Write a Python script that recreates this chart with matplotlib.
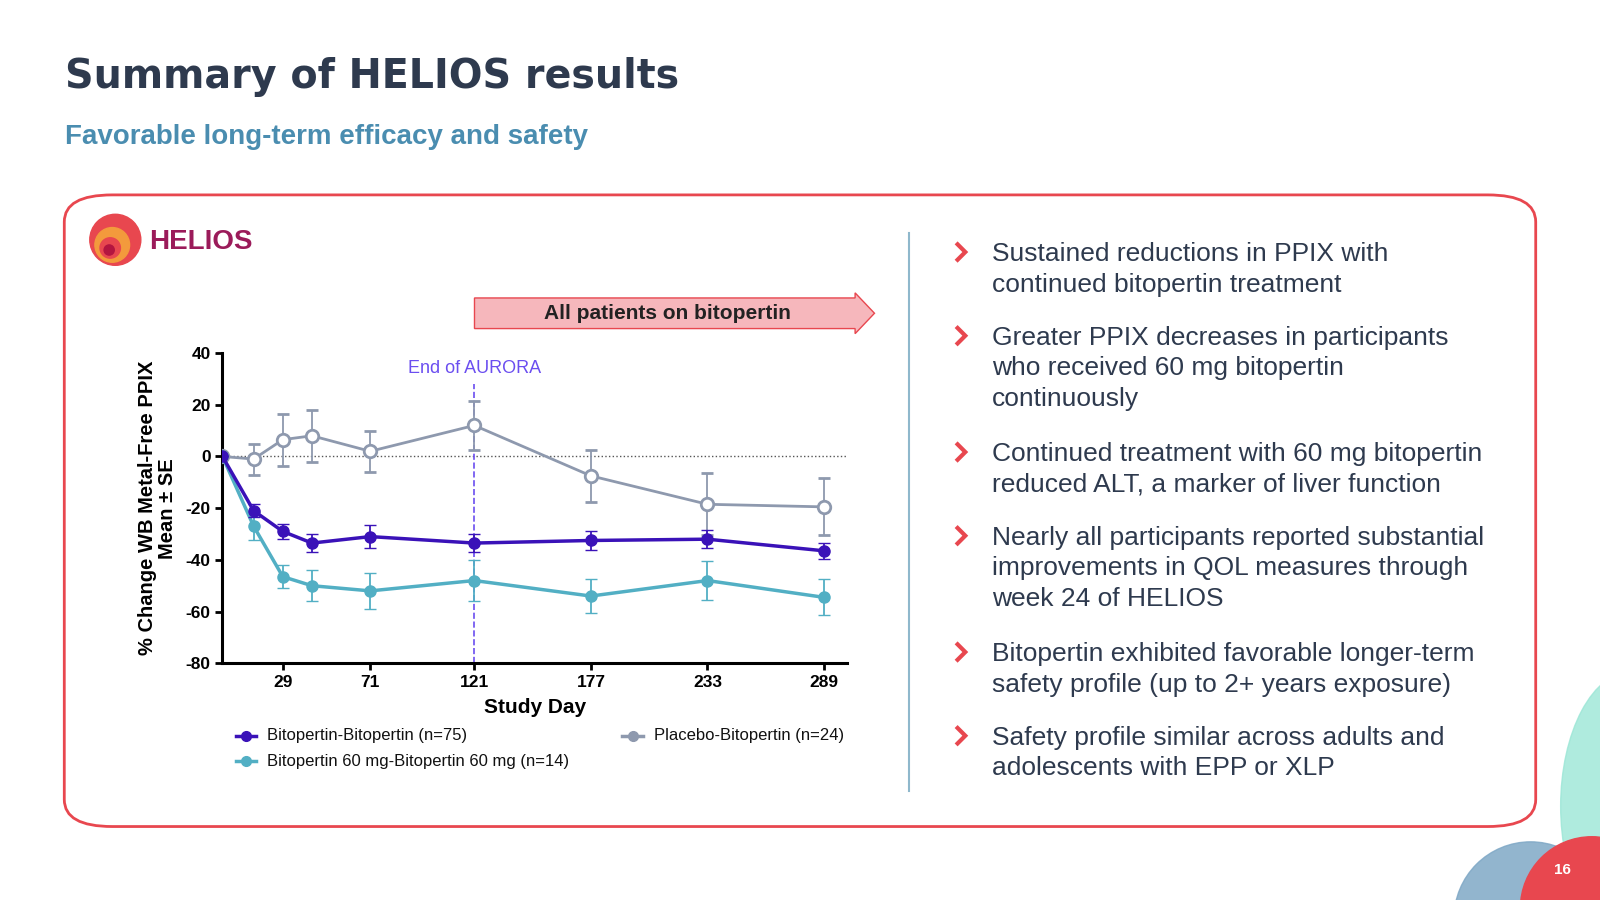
import matplotlib
matplotlib.use("Agg")
import matplotlib.pyplot as plt
from matplotlib.patches import FancyBboxPatch, Polygon, Ellipse
from matplotlib.lines import Line2D

days = [0, 15, 29, 43, 71, 121, 177, 233, 289]
bb_mean = [0, -21, -29, -33.5, -31, -33.5, -32.5, -32, -36.5]
bb_se = [0, 2.5, 3, 3.5, 4.5, 3.5, 3.5, 3.5, 3]
b60_mean = [0, -27, -46.5, -50, -52, -48, -54, -48, -54.5]
b60_se = [0, 5.5, 4.5, 6, 7, 8, 6.5, 7.5, 7]
pb_mean = [0, -1, 6.5, 8, 2, 12, -7.5, -18.5, -19.5]
pb_se = [0, 6, 10, 10, 8, 9.5, 10, 12, 11]
xticks = [29, 71, 121, 177, 233, 289]
yticks = [40, 20, 0, -20, -40, -60, -80]
bullets = [
    "Sustained reductions in PPIX with\ncontinued bitopertin treatment",
    "Greater PPIX decreases in participants\nwho received 60 mg bitopertin\ncontinuously",
    "Continued treatment with 60 mg bitopertin\nreduced ALT, a marker of liver function",
    "Nearly all participants reported substantial\nimprovements in QOL measures through\nweek 24 of HELIOS",
    "Bitopertin exhibited favorable longer-term\nsafety profile (up to 2+ years exposure)",
    "Safety profile similar across adults and\nadolescents with EPP or XLP",
]
bullet_y = [249, 331, 445, 527, 641, 723]

C_BB = "#3A12B8"
C_60 = "#52AFC4"
C_PB = "#8E99AE"
DARK = "#2E3A4E"
RED = "#E8474F"
W, H = 1568, 882

def fx(x): return x / W
def fy(y): return 1 - y / H

def circ(x, y, r, c, **kw):
    fig.add_artist(Ellipse((fx(x), fy(y)), 2 * r / W, 2 * r / H, transform=fig.transFigure,
                           color=c, **kw))

plt.rcParams['font.family'] = ['Liberation Sans', 'DejaVu Sans']
fig = plt.figure(figsize=(16, 9), dpi=100)
fig.patch.set_facecolor("white")

fig.text(fx(64), fy(75), "Summary of HELIOS results", fontsize=28.5, fontweight="heavy",
         color=DARK, va="center", family=['DejaVu Sans'])
fig.text(fx(64), fy(134), "Favorable long-term efficacy and safety", fontsize=20,
         fontweight="bold", color="#4A8DB0", va="center")

box = FancyBboxPatch((fx(63), fy(810)), fx(1505) - fx(63), fy(191) - fy(810),
                     boxstyle="round,pad=0,rounding_size=0.03", transform=fig.transFigure,
                     fill=False, ec=RED, lw=2)
fig.add_artist(box)
fig.add_artist(Line2D([fx(891), fx(891)], [fy(228), fy(775)], transform=fig.transFigure,
                      color="#8FB8CC", lw=1.5))

# decorative corner (behind)
fig.add_artist(Ellipse((fx(1600), fy(790)), 0.09, 0.3, transform=fig.transFigure,
                       color="#9BE6D6", alpha=0.8, zorder=0))
circ(1500, 900, 75, "#7FA8C6", alpha=0.85, zorder=0)
circ(1560, 890, 70, RED, zorder=1)
fig.text(fx(1531), fy(853), "16", fontsize=11, fontweight="bold", color="white",
         ha="center", va="center", zorder=2)

# logo
circ(113, 235, 25, RED)
circ(110, 240, 17, "#F39A3C")
circ(108, 243, 10, "#E8474F")
circ(107, 245, 5, "#B3153F")
fig.text(fx(146), fy(237), "HELIOS", fontsize=20, fontweight="bold", color="#9B1B5A", va="center")

# arrow banner
arr = Polygon([[fx(465), fy(292)], [fx(838), fy(292)], [fx(838), fy(287)], [fx(857), fy(307)],
               [fx(838), fy(327)], [fx(838), fy(322)], [fx(465), fy(322)]],
              closed=True, transform=fig.transFigure, fc="#F6B7BC", ec=RED, lw=1)
fig.add_artist(arr)
fig.text(fx(654), fy(307), "All patients on bitopertin", fontsize=15, fontweight="bold",
         color="#222222", ha="center", va="center")

ax = fig.add_axes([fx(218), fy(650), fx(830) - fx(218), fy(346) - fy(650)])
ax.set_xlim(0, 300)
ax.set_ylim(-80, 40)
for s in ["top", "right"]:
    ax.spines[s].set_visible(False)
for s in ["left", "bottom"]:
    ax.spines[s].set_linewidth(2.2)
ax.axhline(0, color="#555555", ls=":", lw=1)
ax.plot([121, 121], [-80, 28], color="#6B4EF0", ls="--", lw=1.2)
ax.text(121, 34, "End of AURORA", color="#6B4EF0", fontsize=13, ha="center", va="center")

ax.errorbar(days, pb_mean, yerr=pb_se, color=C_PB, lw=2, capsize=4, elinewidth=1.3,
            marker="o", ms=9, mfc="white", mec=C_PB, mew=2, zorder=3)
ax.errorbar(days, b60_mean, yerr=b60_se, color=C_60, lw=2.5, capsize=4, elinewidth=1.3,
            marker="o", ms=8, mfc=C_60, mec=C_60, zorder=4)
ax.errorbar(days, bb_mean, yerr=bb_se, color=C_BB, lw=2.5, capsize=4, elinewidth=1.3,
            marker="o", ms=8, mfc=C_BB, mec=C_BB, zorder=5)

ax.set_xticks(xticks)
ax.set_yticks(yticks)
ax.set_yticklabels([str(v) for v in yticks])
ax.tick_params(labelsize=12.5, width=2, length=5)
for t in ax.get_xticklabels() + ax.get_yticklabels():
    t.set_fontweight("bold")
ax.set_xlabel("Study Day", fontsize=15, fontweight="bold", labelpad=6)
ax.set_ylabel("% Change WB Metal-Free PPIX\nMean ± SE", fontsize=14.5, fontweight="bold",
              labelpad=6, linespacing=1.1)

def leg(x, y, c, label):
    fig.add_artist(Line2D([fx(x - 10), fx(x + 10)], [fy(y), fy(y)], transform=fig.transFigure,
                          color=c, lw=2.5))
    fig.add_artist(Line2D([fx(x)], [fy(y)], transform=fig.transFigure, marker="o", ms=7,
                          color=c))
    fig.text(fx(x + 21), fy(y), label, fontsize=12, va="center", color="#111111")

leg(241, 721, C_BB, "Bitopertin-Bitopertin (n=75)")
leg(241, 746, C_60, "Bitopertin 60 mg-Bitopertin 60 mg (n=14)")
leg(620, 721, C_PB, "Placebo-Bitopertin (n=24)")

for txt, y in zip(bullets, bullet_y):
    fig.add_artist(Line2D([fx(937), fx(946), fx(937)], [fy(y - 11), fy(y - 2), fy(y + 7)],
                          transform=fig.transFigure, color=RED, lw=3,
                          solid_joinstyle="miter", solid_capstyle="butt"))
    fig.text(fx(972), fy(y - 12), txt, fontsize=19, color=DARK, va="top",
             linespacing=1.36)

fig.savefig("out.png", dpi=100)
